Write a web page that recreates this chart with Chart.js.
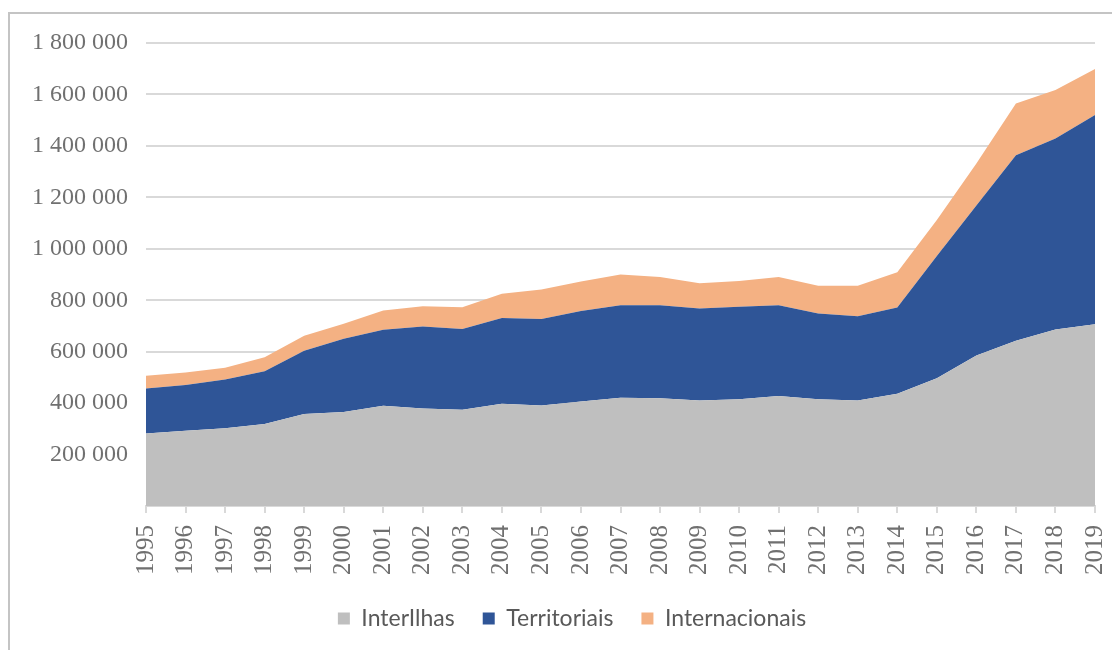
<!DOCTYPE html>
<html>
<head>
<meta charset="utf-8">
<script src="https://cdn.jsdelivr.net/npm/chart.js@4.4.0/dist/chart.umd.min.js"></script>
<style>
  html, body { margin: 0; padding: 0; background: #fff; }
  #wrap { position: relative; width: 1112px; height: 650px; overflow: hidden; }
  #frame { position: absolute; left: 8px; top: 12px; width: 1200px; height: 700px;
           border-top: 2px solid #c4c4c4; border-left: 2px solid #c4c4c4; }
  canvas { position: absolute; left: 0; top: 0; }
</style>
</head>
<body>
<div id="wrap">
  <div id="frame"></div>
  <canvas id="chart" width="1112" height="650"></canvas>
</div>
<script>
// years on the x axis
var years = ['1995', '1996', '1997', '1998', '1999', '2000', '2001', '2002', '2003', '2004',
             '2005', '2006', '2007', '2008', '2009', '2010', '2011', '2012', '2013', '2014',
             '2015', '2016', '2017', '2018', '2019'];

// passengers
var interIlhas = [282000, 293000, 302000, 319000, 358000, 365000, 390000, 379000, 374000, 398000,
                  391000, 406000, 421000, 419000, 410000, 415000, 428000, 415000, 410000, 436000,
                  497000, 585000, 642000, 686000, 707000];
var territoriais = [175000, 177000, 190000, 205000, 246000, 285000, 295000, 319000, 314000, 333000,
                    336000, 352000, 359000, 361000, 358000, 360000, 352000, 333000, 328000, 336000,
                    475000, 583000, 722000, 743000, 813000];
var internacionais = [49000, 49000, 45000, 54000, 58000, 59000, 75000, 79000, 85000, 94000,
                      115000, 115000, 120000, 110000, 98000, 100000, 110000, 108000, 118000, 137000,
                      140000, 164000, 201000, 188000, 179000];

var yTicks = [200000, 400000, 600000, 800000, 1000000, 1200000, 1400000, 1600000, 1800000];

function spaced(v) {
    return String(v).replace(/\B(?=(\d{3})+(?!\d))/g, ' ');
}

function area(label, data, color, fill) {
    return {
        label: label,
        data: data,
        backgroundColor: color,
        borderColor: color,
        borderWidth: 0,
        pointRadius: 0,
        tension: 0,
        fill: fill
    };
}

var ctx = document.getElementById('chart');
var myChart = new Chart(ctx, {
    type: 'line',
    data: {
        labels: years,
        datasets: [
            area('InterIlhas', interIlhas, '#bfbfbf', 'origin'),
            area('Territoriais', territoriais, '#2f5597', '-1'),
            area('Internacionais', internacionais, '#f4b183', '-1')
        ]
    },
    options: {
        responsive: false,
        animation: false,
        devicePixelRatio: 1,
        layout: { padding: { left: 32, right: 0, top: 43, bottom: 10 } },
        plugins: {
            tooltip: { enabled: false },
            legend: {
                position: 'bottom',
                labels: {
                    boxWidth: 12,
                    boxHeight: 12,
                    padding: 28,
                    color: '#595959',
                    font: { family: 'Lato', size: 23 }
                }
            }
        },
        scales: {
            x: {
                offset: false,
                grid: { display: true, drawOnChartArea: false, drawTicks: true, tickLength: 7, color: '#d9d9d9', lineWidth: 2 },
                border: { display: true, color: '#d9d9d9', width: 2 },
                ticks: {
                    autoSkip: false,
                    maxRotation: 90,
                    minRotation: 90,
                    padding: 12,
                    color: '#707070',
                    font: { family: 'Liberation Serif', size: 25 }
                },
                afterFit: function(scale) {
                    scale.height = 73;
                    scale.paddingLeft = 0;
                    scale.paddingRight = 17;
                }
            },
            y: {
                stacked: true,
                min: 0,
                max: 1800000,
                afterBuildTicks: function(scale) {
                    scale.ticks = [{ value: 0 }].concat(yTicks.map(function(v) { return { value: v }; }));
                },
                grid: { color: function(c) { return c.tick.value === 0 ? 'rgba(0,0,0,0)' : '#d9d9d9'; }, lineWidth: 2, drawTicks: false },
                border: { display: false },
                ticks: {
                    padding: 18,
                    color: '#707070',
                    font: { family: 'Liberation Serif', size: 24 },
                    callback: function(v) { return v === 0 ? '' : spaced(v); }
                },
                afterFit: function(scale) { scale.width = 114; }
            }
        }
    }
});
</script>
</body>
</html>
